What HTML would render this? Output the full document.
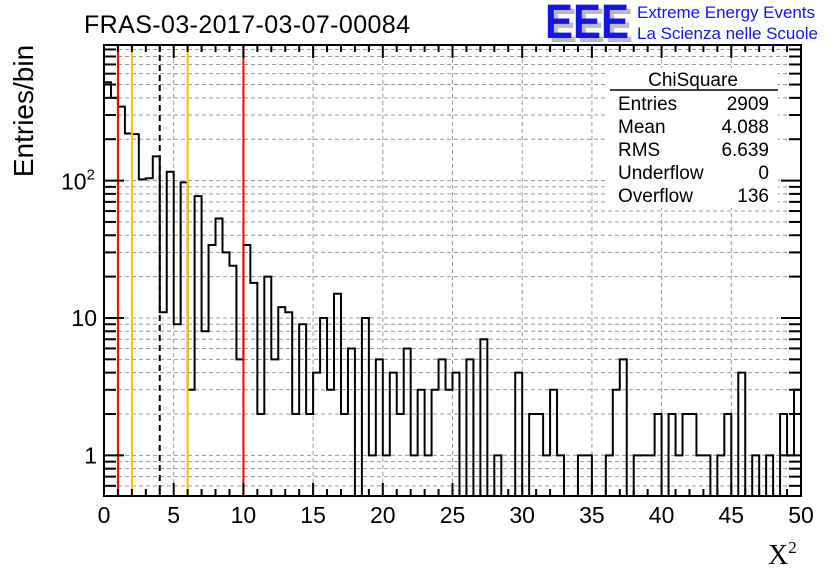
<!DOCTYPE html>
<html><head><meta charset="utf-8"><style>
html,body{margin:0;padding:0;background:#fff;}
svg{display:block;font-family:"Liberation Sans",Arial,sans-serif;}
</style></head><body>
<svg id="chart" width="836" height="572" viewBox="0 0 836 572">
  <rect x="0" y="0" width="836" height="572" fill="#fff"/>
  <g id="grid"></g>
  <g id="hist"></g>
  <g id="markers"></g>
  <g id="axes"></g>
  <text x="84" y="33" font-size="25" textLength="326">FRAS-03-2017-03-07-00084</text>
  <text x="33" y="111" font-size="28" transform="rotate(-90 33 111)" text-anchor="middle">Entries/bin</text>
  <text x="768" y="564" font-size="28" font-family="'Liberation Serif',serif">X<tspan font-size="17" dy="-11">2</tspan></text>
  <g>
    <text x="549" y="42" font-size="48" font-weight="bold" fill="#bbb" textLength="84" lengthAdjust="spacingAndGlyphs">EEE</text>
    <text x="545" y="38" font-size="48" font-weight="bold" fill="#1414f0" textLength="84" lengthAdjust="spacingAndGlyphs">EEE</text>
    <text x="637" y="18" font-size="17" fill="#1414f0" textLength="178">Extreme Energy Events</text>
    <text x="637" y="39" font-size="17" fill="#1414f0" textLength="181">La Scienza nelle Scuole</text>
  </g>
  <g>
    <rect x="608" y="68" width="170" height="140" fill="#fff"/>
    <text x="693" y="86" font-size="19" text-anchor="middle">ChiSquare</text>
    <line x1="610" y1="90" x2="778" y2="90" stroke="#000" stroke-width="1.5"/>
    <text x="618" y="110" font-size="19">Entries</text><text x="769" y="110" font-size="19" text-anchor="end">2909</text>
    <text x="618" y="133" font-size="19">Mean</text><text x="769" y="133" font-size="19" text-anchor="end">4.088</text>
    <text x="618" y="156" font-size="19">RMS</text><text x="769" y="156" font-size="19" text-anchor="end">6.639</text>
    <text x="618" y="179" font-size="19">Underflow</text><text x="769" y="179" font-size="19" text-anchor="end">0</text>
    <text x="618" y="202" font-size="19">Overflow</text><text x="769" y="202" font-size="19" text-anchor="end">136</text>
  </g>
</svg>
<script>
const binCounts = [520,400,345,220,218,102,104,150,11,116,9,97,3,77,8,34,53,30,24,5,
34,18,2,20,5,12,11,2,9,2,4,10,3,15,2,6,0,10,1,5,
1,4,2,6,1,3,1,3,5,3,4,0,5,0,7,0,1,0,0,4,
0,2,2,1,3,1,0,0,1,1,0,0,1,3,5,0,1,1,1,2,
0,2,1,2,2,1,1,0,1,2,0,4,0,1,0,1,0,2,1,3];
const binWidth = [0.5];
const xTickLabels = ["0","5","10","15","20","25","30","35","40","45","50"];
const cutRed = [1,10];
const cutOrange = [2,6];
const cutDashed = [4];

const NS="http://www.w3.org/2000/svg";
const L=104,R=801,T=45,B=496;
const xmin=0,xmax=50,ymin=0.506,ymax=970;
const X=v=>L+(v-xmin)/(xmax-xmin)*(R-L);
const Y=v=>{if(v<ymin)v=ymin;return B-(Math.log10(v)-Math.log10(ymin))/(Math.log10(ymax)-Math.log10(ymin))*(B-T);};
function mk(tag,attrs,parent){const e=document.createElementNS(NS,tag);for(const k in attrs)e.setAttribute(k,attrs[k]);parent.appendChild(e);return e;}
const grid=document.getElementById('grid'),hist=document.getElementById('hist'),axes=document.getElementById('axes'),markers=document.getElementById('markers');

for(let v=5;v<50;v+=5){const l=mk('line',{x1:X(v),x2:X(v),y1:T,y2:B,stroke:'#999','stroke-dasharray':'4,3'},grid);

}
const yt=[];for(let d=-1;d<=2;d++)for(let m=1;m<=9;m++){const v=m*Math.pow(10,d);if(v>ymin&&v<ymax)yt.push(v);}
yt.forEach(v=>{const l=mk('line',{x1:L,x2:R,y1:Y(v),y2:Y(v),stroke:'#999','stroke-dasharray':'4,3'},grid);

});

const w=binWidth[0];
let d='M'+X(0)+','+Y(0);
binCounts.forEach((c,i)=>{const y=Y(c);d+=' L'+X(i*w)+','+y+' L'+X((i+1)*w)+','+y;});
d+=' L'+X(binCounts.length*w)+','+Y(0);
const p=mk('path',{d:d,fill:'none',stroke:'#000','stroke-width':2},hist);



cutRed.forEach(v=>{const l=mk('line',{x1:X(v),x2:X(v),y1:T,y2:B,stroke:'#f00','stroke-width':2},markers);

});
cutOrange.forEach(v=>{const l=mk('line',{x1:X(v),x2:X(v),y1:T,y2:B,stroke:'#ffc000','stroke-width':2},markers);

});
cutDashed.forEach(v=>{const l=mk('line',{x1:X(v),x2:X(v),y1:T,y2:B,stroke:'#000','stroke-width':2,'stroke-dasharray':'6,4'},markers);

});

const f=mk('rect',{x:L,y:T,width:R-L,height:B-T,fill:'none',stroke:'#000','stroke-width':2},axes);


for(let v=0;v<=50;v++){const len=v%5===0?13:7;
mk('line',{x1:X(v),x2:X(v),y1:B,y2:B-len,stroke:'#000','stroke-width':2},axes);
mk('line',{x1:X(v),x2:X(v),y1:T,y2:T+len,stroke:'#000','stroke-width':2},axes);}
xTickLabels.forEach((s,i)=>{const t=mk('text',{x:X(+s),y:523,'font-size':23,'text-anchor':'middle'},axes);t.textContent=s;

});
yt.forEach(v=>{const maj=[1,10,100].includes(Math.round(v*1000)/1000);const len=maj?20:12;
mk('line',{x1:L,x2:L+len,y1:Y(v),y2:Y(v),stroke:'#000','stroke-width':2},axes);
mk('line',{x1:R,x2:R-len,y1:Y(v),y2:Y(v),stroke:'#000','stroke-width':2},axes);});
[["1",1],["10",10]].forEach(([s,v])=>{const t=mk('text',{x:97,y:Y(v)+8,'font-size':23,'text-anchor':'end'},axes);t.textContent=s;

});
const t2=mk('text',{x:61,y:Y(100)+9,'font-size':23},axes);t2.innerHTML='10<tspan font-size="15" dy="-10">2</tspan>';


</script>
</body></html>
